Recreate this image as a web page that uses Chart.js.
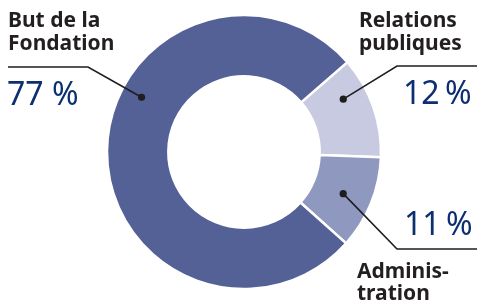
<!DOCTYPE html>
<html>
<head>
<meta charset="utf-8">
<script src="https://cdn.jsdelivr.net/npm/chart.js@4"></script>
<style>
  html, body { margin: 0; padding: 0; background: #ffffff; }
  #wrap { width: 477px; height: 301px; }
</style>
</head>
<body>
<div id="wrap"><canvas id="donut" width="477" height="301"></canvas></div>
<script>
// data
const categories = ['Relations publiques', 'Administration', 'But de la Fondation'];
const shares = [12, 11, 77];
const shareLabels = ['12\u2009%', '11\u2009%', '77 %'];
const labelLines = [['Relations', 'publiques'], ['Adminis-', 'tration'], ['But de la', 'Fondation']];
const sliceColors = ['#c8cae1', '#8f98bf', '#536196'];

// where each callout sits (text + leader line), slice index matches the arrays above
const callouts = [
    { titleX: 359, titleY: [27, 50], numX: 403, numY: 104, elbow: [397, 66], end: 477, at: 0.3, depth: 0.6 },
    { titleX: 357, titleY: [278, 300], numX: 404, numY: 235, elbow: [397, 249], end: 477, at: 0.52, depth: 0.52 },
    { titleX: 8, titleY: [27, 50], numX: 7, numY: 105, elbow: [88, 67], end: 8, at: 0.6, depth: 0.66 }
];

const calloutPlugin = {
    id: 'callouts',
    afterDraw(chart) {
        const ctx = chart.ctx;
        const arcs = chart.getDatasetMeta(0).data;
        ctx.save();
        arcs.forEach((arc, i) => {
            const c = callouts[i];
            const a = arc.startAngle + (arc.endAngle - arc.startAngle) * c.at;
            const r = arc.innerRadius + (arc.outerRadius - arc.innerRadius) * c.depth;
            const dx = arc.x + Math.cos(a) * r;
            const dy = arc.y + Math.sin(a) * r;

            // leader line
            ctx.strokeStyle = '#1e1e1e';
            ctx.lineWidth = 1.6;
            ctx.beginPath();
            ctx.moveTo(c.end, c.elbow[1]);
            ctx.lineTo(c.elbow[0], c.elbow[1]);
            ctx.lineTo(dx, dy);
            ctx.stroke();
            ctx.fillStyle = '#1e1e1e';
            ctx.beginPath();
            ctx.arc(dx, dy, 3.6, 0, Math.PI * 2);
            ctx.fill();

            // category title
            ctx.textAlign = 'left';
            ctx.textBaseline = 'alphabetic';
            ctx.fillStyle = '#231f20';
            ctx.font = 'bold 21px "Noto Sans"';
            labelLines[i].forEach((line, k) => ctx.fillText(line, c.titleX, c.titleY[k]));

            // percentage
            ctx.fillStyle = '#0c2f72';
            ctx.font = '400 32px "Noto Sans"';
            ctx.fillText(shareLabels[i], c.numX, c.numY);
        });
        ctx.restore();
    }
};

new Chart(document.getElementById('donut').getContext('2d'), {
    type: 'doughnut',
    data: {
        labels: categories,
        datasets: [{
            data: shares,
            backgroundColor: sliceColors,
            borderColor: '#ffffff',
            borderWidth: 2.5,
            hoverOffset: 0
        }]
    },
    options: {
        responsive: false,
        animation: false,
        rotation: 49,
        radius: 137,
        cutout: 75,
        layout: { padding: { left: 107, right: 96, top: 15, bottom: 12 } },
        plugins: {
            legend: { display: false },
            tooltip: { enabled: false }
        }
    },
    plugins: [calloutPlugin]
});
</script>
</body>
</html>
